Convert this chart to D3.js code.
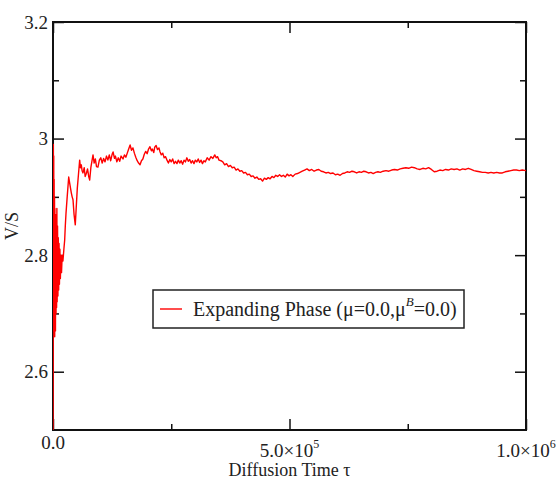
<!DOCTYPE html>
<html lang="en">
<head>
    <meta charset="UTF-8">
    <title>V/S vs Diffusion Time</title>
    <script src="https://d3js.org/d3.v7.min.js"></script>
    <style>
        body { margin: 0; background: #fff; }
        text { font-family: "Liberation Serif", "Times New Roman", serif; fill: #222; }
    </style>
</head>
<body>
    <svg width="558" height="482"></svg>

    <script>
        // data (tau in thousands, V/S), 10 per row
        const tau = [
            0, 0.4, 0.8, 1.2, 1.6, 2.0, 2.4, 2.8, 3.2, 3.6,
            4.0, 4.4, 4.8, 5.2, 5.8, 6.4, 7.0, 7.6, 8.2, 8.8,
            9.6, 10.4, 11.2, 12.0, 12.8, 13.6, 14.6, 15.6, 16.8, 18.0,
            19.4, 21.0, 23.0, 24.7, 26.0, 27.5, 30.0, 33.2, 35.0, 37.0,
            38.7, 40.5, 42.3, 44.5, 47.1, 49.0, 51.4, 54.0, 56.4, 58.0,
            59.8, 61.5, 63.4, 66.0, 68.0, 70.4, 73.0, 75.5, 77.6, 80.0,
            82.5, 84.6, 87, 89.5, 92, 95, 98, 101, 104, 107,
            110, 113, 116, 119, 122, 125, 127, 130, 132, 135,
            138, 141, 144, 148, 151, 154, 157, 160, 163, 166,
            169, 172, 175, 178, 181, 184, 187, 190, 193, 196,
            199, 202, 205, 208, 210, 213, 215, 218, 221, 224,
            226, 229, 232, 235, 238, 241, 244, 247, 250, 253,
            256, 259, 262, 265, 268, 271, 274, 277, 280, 283,
            286, 289, 292, 295, 298, 301, 304, 307, 310, 313,
            316, 319, 322, 326, 330, 334, 338, 342, 345, 348,
            351, 355, 359, 363, 367, 371, 375, 379, 383, 387,
            391, 395, 399, 403, 407, 411, 415, 419, 423, 427,
            431, 435, 439, 443, 447, 451, 455, 459, 463, 467,
            471, 475, 479, 483, 487, 491, 495, 499, 503, 507,
            512, 517, 522, 527, 532, 537, 542, 547, 552, 557,
            562, 567, 572, 577, 582, 587, 592, 597, 602, 607,
            612, 617, 622, 627, 632, 637, 642, 647, 652, 657,
            662, 667, 672, 677, 682, 687, 692, 698, 704, 710,
            716, 722, 728, 734, 740, 746, 752, 758, 764, 770,
            776, 782, 788, 794, 800, 806, 812, 818, 824, 830,
            836, 842, 848, 854, 860, 866, 872, 878, 884, 890,
            896, 902, 908, 914, 920, 926, 932, 938, 944, 950,
            956, 962, 968, 974, 980, 986, 992, 1000];
        const ratio = [
            2.50, 2.62, 2.99, 2.70, 2.97, 2.67, 2.93, 2.68, 2.90, 2.66,
            2.88, 2.69, 2.87, 2.67, 2.86, 2.70, 2.87, 2.71, 2.88, 2.72,
            2.85, 2.73, 2.83, 2.74, 2.82, 2.75, 2.81, 2.76, 2.80, 2.77,
            2.80, 2.79, 2.81, 2.826, 2.85, 2.872, 2.90, 2.934, 2.925, 2.915,
            2.907, 2.90, 2.895, 2.87, 2.852, 2.88, 2.915, 2.94, 2.963, 2.950,
            2.955, 2.945, 2.941, 2.950, 2.935, 2.940, 2.948, 2.935, 2.929, 2.950,
            2.962, 2.972, 2.958, 2.965, 2.952, 2.951, 2.963, 2.967, 2.958, 2.966,
            2.960, 2.970, 2.963, 2.972, 2.962, 2.973, 2.977, 2.966, 2.970, 2.960,
            2.967, 2.961, 2.970, 2.965, 2.972, 2.968, 2.975, 2.982, 2.989, 2.980,
            2.984, 2.975, 2.968, 2.962, 2.958, 2.955, 2.962, 2.965, 2.973, 2.978,
            2.974, 2.982, 2.986, 2.979, 2.982, 2.976, 2.985, 2.988, 2.981, 2.984,
            2.978, 2.972, 2.975, 2.967, 2.969, 2.963, 2.958, 2.964, 2.960, 2.965,
            2.957, 2.961, 2.957, 2.963, 2.958, 2.962, 2.956, 2.963, 2.960, 2.967,
            2.961, 2.964, 2.958, 2.962, 2.957, 2.963, 2.960, 2.965, 2.959, 2.963,
            2.957, 2.962, 2.960, 2.967, 2.963, 2.969, 2.966, 2.972, 2.967, 2.969,
            2.963, 2.962, 2.960, 2.955, 2.957, 2.952, 2.954, 2.950, 2.951, 2.946,
            2.948, 2.944, 2.945, 2.941, 2.942, 2.938, 2.939, 2.935, 2.936, 2.932,
            2.934, 2.930, 2.931, 2.927, 2.932, 2.930, 2.933, 2.931, 2.935, 2.933,
            2.937, 2.935, 2.938, 2.935, 2.937, 2.934, 2.939, 2.936, 2.938, 2.935,
            2.939, 2.940, 2.942, 2.944, 2.946, 2.948, 2.945, 2.947, 2.944, 2.946,
            2.947, 2.944, 2.943, 2.941, 2.942, 2.940, 2.941, 2.938, 2.939, 2.937,
            2.940, 2.941, 2.943, 2.942, 2.944, 2.943, 2.941, 2.943, 2.942, 2.944,
            2.943, 2.941, 2.942, 2.940, 2.942, 2.943, 2.942, 2.944, 2.945, 2.944,
            2.946, 2.947, 2.946, 2.948, 2.949, 2.950, 2.949, 2.951, 2.950, 2.948,
            2.947, 2.949, 2.948, 2.950, 2.947, 2.943, 2.944, 2.946, 2.945, 2.947,
            2.946, 2.948, 2.947, 2.948, 2.946, 2.948, 2.947, 2.949, 2.947, 2.945,
            2.944, 2.943, 2.942, 2.942, 2.941, 2.942, 2.941, 2.942, 2.941, 2.941,
            2.943, 2.944, 2.945, 2.946, 2.946, 2.945, 2.946, 2.945];

        const yMajor = [2.6, 2.8, 3, 3.2];
        const yMinor = [2.7, 2.9, 3.1];
        const xMajor = [0, 5e5, 1e6];
        const xMinor = [2.5e5, 7.5e5];
        const xLabels = [["0.0", ""], ["5.0\u00d710", "5"], ["1.0\u00d710", "6"]];

        const data = tau.map((t, i) => ({ t: t * 1000, v: ratio[i] }));

        const svg = d3.select("svg");
        const L = 53, R = 526, T = 22, B = 430;

        const x = d3.scaleLinear().domain([0, 1e6]).range([L, R]);
        const y = d3.scaleLinear().domain([2.5, 3.2]).range([B, T]);

        svg.append("clipPath").attr("id", "clip")
            .append("rect").attr("x", L).attr("y", T).attr("width", R - L).attr("height", B - T);

        // ticks, all pointing inward
        function ticks(axisFn, scale, vals, size, tr) {
            const g = svg.append("g").attr("transform", tr)
                .call(axisFn(scale).tickValues(vals).tickSize(-size).tickFormat(""));
            g.select(".domain").remove();
            g.selectAll("line").attr("stroke", "#111").attr("stroke-width", 1.5);
            return g;
        }
        ticks(d3.axisBottom, x, xMajor, 11, `translate(0,${B})`);
        ticks(d3.axisBottom, x, xMinor, 6, `translate(0,${B})`);
        ticks(d3.axisTop, x, xMajor, 11, `translate(0,${T})`);
        ticks(d3.axisTop, x, xMinor, 6, `translate(0,${T})`);
        ticks(d3.axisLeft, y, yMajor, 11, `translate(${L},0)`);
        ticks(d3.axisLeft, y, yMinor, 6, `translate(${L},0)`);
        ticks(d3.axisRight, y, yMajor, 11, `translate(${R},0)`);
        ticks(d3.axisRight, y, yMinor, 6, `translate(${R},0)`);

        // frame
        svg.append("rect").attr("x", L).attr("y", T).attr("width", R - L).attr("height", B - T)
            .attr("fill", "none").attr("stroke", "#111").attr("stroke-width", 2);

        // curve (drawn over the frame, as in the original)
        svg.append("path")
            .datum(data)
            .attr("clip-path", "url(#clip)")
            .attr("fill", "none")
            .attr("stroke", "#ff0000")
            .attr("stroke-width", 1.4)
            .attr("stroke-linejoin", "round")
            .attr("d", d3.line().x(d => x(d.t)).y(d => y(d.v)));

        // y tick labels
        svg.append("g").selectAll("text").data(yMajor).enter().append("text")
            .attr("x", L - 5).attr("y", d => y(d) + 6.5)
            .attr("text-anchor", "end").attr("font-size", 19)
            .text(d => d === 3 ? "3" : d3.format(".1f")(d));

        // x tick labels with superscripts
        const xl = svg.append("g").selectAll("text").data(xMajor).enter().append("text")
            .attr("x", d => x(d)).attr("y", (d, i) => i === 0 ? 449 : 457)
            .attr("text-anchor", "middle").attr("font-size", 19);
        xl.append("tspan").text((d, i) => xLabels[i][0]);
        xl.append("tspan").attr("dy", -9).attr("font-size", 12).text((d, i) => xLabels[i][1]);

        // axis titles
        svg.append("text").attr("x", x(5e5)).attr("y", 476)
            .attr("text-anchor", "middle").attr("font-size", 18).text("Diffusion Time \u03c4");
        svg.append("text").attr("transform", `translate(18,${(T + B) / 2}) rotate(-90)`)
            .attr("text-anchor", "middle").attr("font-size", 18).text("V/S");

        // legend
        const lg = svg.append("g").attr("transform", "translate(153,290)");
        lg.append("rect").attr("width", 311).attr("height", 38)
            .attr("fill", "#fff").attr("stroke", "#222").attr("stroke-width", 1.5);
        lg.append("line").attr("x1", 7).attr("x2", 29).attr("y1", 19).attr("y2", 19)
            .attr("stroke", "#ff0000").attr("stroke-width", 1.4);
        const lt = lg.append("text").attr("x", 40).attr("y", 26).attr("font-size", 20);
        lt.append("tspan").text("Expanding Phase (\u03bc=0.0,\u03bc");
        lt.append("tspan").attr("dy", -10).attr("font-size", 13).attr("font-style", "italic").text("B");
        lt.append("tspan").attr("dy", 10).text("=0.0)");
    </script>
</body>
</html>
